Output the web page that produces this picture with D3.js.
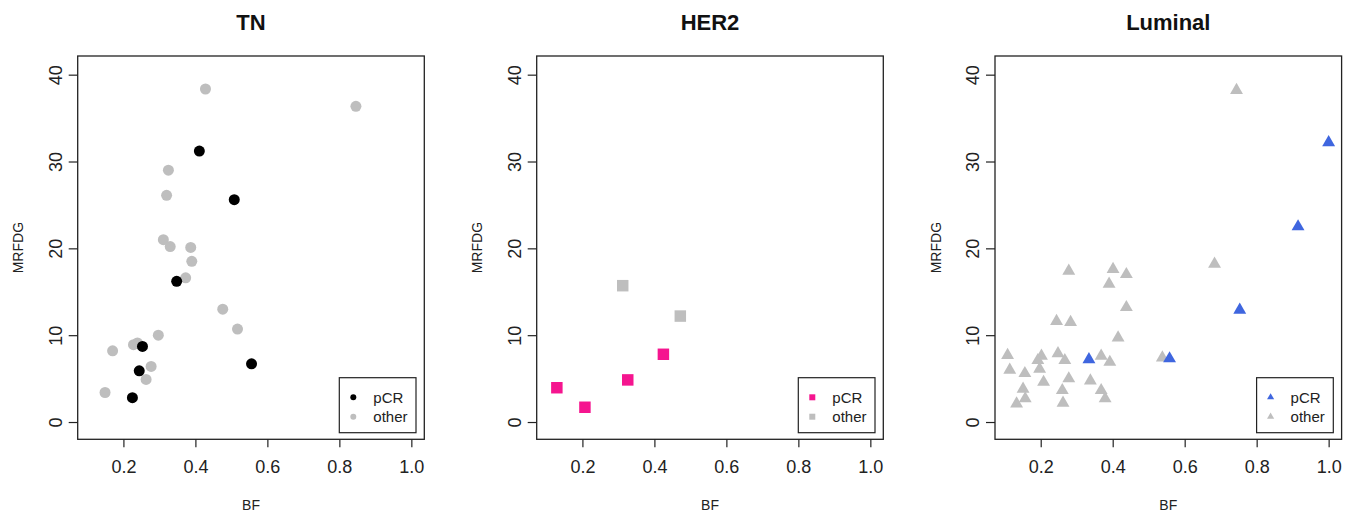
<!DOCTYPE html>
<html>
<head>
<meta charset="utf-8">
<script src="https://cdnjs.cloudflare.com/ajax/libs/d3/7.8.5/d3.min.js"></script>
<style>
body { margin: 0; background: #fff; }
svg { display: block; font-family: "Liberation Sans", Arial, sans-serif; }
</style>
</head>
<body>
<svg id="chart" width="1358" height="517"></svg>
<script>
// values: [BF, MRFDG]
var titles = ["TN", "HER2", "Luminal"];
var legendLabels = ["pCR", "other"];
var xTicks = [0.2, 0.4, 0.6, 0.8, 1.0];
var yTicks = [0, 10, 20, 30, 40];

var tnPcr = [[0.411,31.2],[0.508,25.6],[0.348,16.2],[0.253,8.7],[0.244,5.9],[0.225,2.8],[0.556,6.7]];
var tnOther = [[0.428,38.35],[0.846,36.35],[0.325,29.0],[0.320,26.1],[0.311,21.0],[0.330,20.2],
	[0.387,20.1],[0.390,18.5],[0.373,16.6],[0.476,13.0],[0.517,10.7],[0.297,10.0],[0.228,8.9],
	[0.239,9.1],[0.170,8.2],[0.277,6.4],[0.263,4.9],[0.149,3.4]];

var her2Pcr = [[0.129,3.95],[0.207,1.7],[0.326,4.85],[0.425,7.8]];
var her2Other = [[0.312,15.7],[0.472,12.2]];

var lumPcr = [[1.0,32.2],[0.915,22.5],[0.753,12.9],[0.558,7.3],[0.334,7.2]];
var lumOther = [[0.744,38.2],[0.683,18.2],[0.278,17.4],[0.401,17.6],[0.438,17.0],[0.390,15.9],
	[0.438,13.2],[0.244,11.6],[0.283,11.5],[0.415,9.7],[0.108,7.7],[0.114,6.0],[0.156,5.6],
	[0.202,7.6],[0.192,7.1],[0.197,6.1],[0.208,4.6],[0.248,7.9],[0.267,7.1],[0.278,5.0],
	[0.260,3.65],[0.262,2.2],[0.151,3.8],[0.157,2.7],[0.133,2.1],[0.338,4.75],[0.368,7.6],
	[0.392,6.9],[0.368,3.65],[0.379,2.7],[0.538,7.4]];

var panels = [
	{title: titles[0], left: 77.7,  pcr: tnPcr,   other: tnOther,   type: d3.symbolCircle,   size: 95,  legSize: 28, col: "#000000"},
	{title: titles[1], left: 536.7, pcr: her2Pcr, other: her2Other, type: d3.symbolSquare,   size: 132, legSize: 36, col: "#f5158f"},
	{title: titles[2], left: 995,   pcr: lumPcr,  other: lumOther,  type: d3.symbolTriangle, size: 72,  legSize: 22, col: "#3f66df"}
];
var otherCol = "#bebebe";

var plotTop = 56, plotBottom = 439.3, w = 346.6;
var svg = d3.select("#chart");

var x = d3.scaleLinear().domain([0.073, 1.036]).range([0, w]);
var y = d3.scaleLinear().domain([-1.99, 42.15]).range([plotBottom, plotTop]);

panels.forEach(function(p) {
	var g = svg.append("g").attr("transform", "translate(" + p.left + ",0)");
	var sym = d3.symbol().type(p.type).size(p.size);

	// x axis
	g.append("g")
		.attr("transform", "translate(0," + plotBottom + ")")
		.call(d3.axisBottom(x).tickValues(xTicks).tickFormat(d3.format(".1f")).tickSize(8).tickPadding(12.5))
		.call(function(a) {
			a.select(".domain").remove();
			a.selectAll("line").attr("stroke", "#222").attr("stroke-width", 1.2);
			a.selectAll("text").attr("font-size", 18).attr("fill", "#222");
			a.attr("font-family", null);
		});

	// y axis, labels turned like R
	g.append("g")
		.call(d3.axisLeft(y).tickValues(yTicks).tickSize(9))
		.call(function(a) {
			a.select(".domain").remove();
			a.selectAll("line").attr("stroke", "#222").attr("stroke-width", 1.2);
			a.selectAll("text")
				.attr("x", null).attr("dy", null)
				.attr("transform", "translate(-16,0) rotate(-90)")
				.attr("text-anchor", "middle")
				.attr("font-size", 18).attr("fill", "#222");
			a.attr("font-family", null);
		});

	// points: other first, pCR on top
	g.selectAll("path.other").data(p.other).enter().append("path")
		.attr("class", "other")
		.attr("d", sym)
		.attr("transform", function(d) { return "translate(" + x(d[0]) + "," + y(d[1]) + ")"; })
		.attr("fill", otherCol);
	g.selectAll("path.pcr").data(p.pcr).enter().append("path")
		.attr("class", "pcr")
		.attr("d", sym)
		.attr("transform", function(d) { return "translate(" + x(d[0]) + "," + y(d[1]) + ")"; })
		.attr("fill", p.col);

	// box
	g.append("rect")
		.attr("x", 0).attr("y", plotTop).attr("width", w).attr("height", plotBottom - plotTop)
		.attr("fill", "none").attr("stroke", "#222").attr("stroke-width", 1.3);

	g.append("text")
		.attr("x", w / 2).attr("y", 30)
		.attr("text-anchor", "middle").attr("font-weight", "bold").attr("font-size", 22)
		.attr("fill", "#111")
		.text(p.title);

	g.append("text")
		.attr("x", w / 2).attr("y", 510)
		.attr("text-anchor", "middle").attr("font-size", 14).attr("fill", "#222")
		.text("BF");

	g.append("text")
		.attr("transform", "translate(-54.4," + ((plotTop + plotBottom) / 2) + ") rotate(-90)")
		.attr("text-anchor", "middle").attr("font-size", 14).attr("fill", "#222")
		.text("MRFDG");

	// legend
	var lw = 76.7, lh = 55;
	var lx = w - 8.3 - lw, ly = plotBottom - 6.6 - lh;
	var leg = g.append("g").attr("transform", "translate(" + lx + "," + ly + ")");
	leg.append("rect")
		.attr("width", lw).attr("height", lh)
		.attr("fill", "#fff").attr("stroke", "#222").attr("stroke-width", 1.2);
	var legSym = d3.symbol().type(p.type).size(p.legSize);
	legendLabels.forEach(function(lab, i) {
		var yy = 19.6 + i * 19.4;
		leg.append("path")
			.attr("d", legSym)
			.attr("transform", "translate(14," + yy + ")")
			.attr("fill", i == 0 ? p.col : otherCol);
		leg.append("text")
			.attr("x", 34).attr("y", yy).attr("dy", "0.35em")
			.attr("font-size", 15).attr("fill", "#222")
			.text(lab);
	});
});
</script>
</body>
</html>
